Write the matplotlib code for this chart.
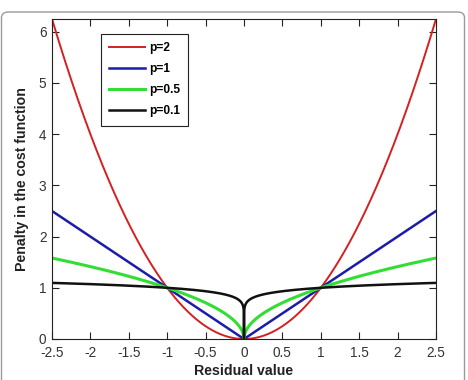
import numpy as np
import matplotlib
matplotlib.use("Agg")
import matplotlib.pyplot as plt
from matplotlib.patches import FancyBboxPatch

plt.rcParams["font.family"] = ["Liberation Sans", "DejaVu Sans"]

# Data
p_values = [2, 1, 0.5, 0.1]
labels = ["p=2", "p=1", "p=0.5", "p=0.1"]
colors = ["#d42020", "#1c1ca8", "#33dd33", "#111111"]
widths = [1.4, 1.8, 2.2, 1.8]
x_range = (-2.5, 2.5)
xticks = [-2.5, -2, -1.5, -1, -0.5, 0, 0.5, 1, 1.5, 2, 2.5]
xticklabels = ["-2.5", "-2", "-1.5", "-1", "-0.5", "0", "0.5", "1", "1.5", "2", "2.5"]
yticks = [0, 1, 2, 3, 4, 5, 6]

W, H = 468, 380
fig = plt.figure(figsize=(W / 100, H / 100), dpi=100)
# outer rounded frame
fig.patches.append(FancyBboxPatch((1.5 / W, -10 / H), (W - 5) / W, (H - 2) / H,
                                  boxstyle="round,pad=0,rounding_size=0.015",
                                  transform=fig.transFigure, fill=False,
                                  edgecolor="#9a9a9a", linewidth=1.0))

left, right, top, bottom = 52, 436, 19, 339
ax = fig.add_axes([left / W, 1 - bottom / H, (right - left) / W, (bottom - top) / H])

x = np.linspace(x_range[0], x_range[1], 2001)
for p, lab, c, lw in zip(p_values, labels, colors, widths):
    ax.plot(x, np.abs(x) ** p, color=c, lw=lw, label=lab)

ax.set_xlim(*x_range)
ax.set_ylim(0, 6.25)
ax.set_xticks(xticks)
ax.set_xticklabels(xticklabels)
ax.set_yticks(yticks)
ax.tick_params(direction="in", top=True, right=True, length=5, width=0.8,
               labelsize=9.8, labelcolor="#333333", color="#222222")
ax.tick_params(axis="x", pad=5)
ax.tick_params(axis="y", pad=4)
for s in ax.spines.values():
    s.set_linewidth(0.8)
    s.set_color("#222222")

ax.set_xlabel("Residual value", fontsize=10.2, fontweight="bold", labelpad=3, color="#222222")
ax.set_ylabel("Penalty in the cost function", fontsize=10.2, fontweight="bold", labelpad=7, color="#222222")

leg = ax.legend(loc="upper left", bbox_to_anchor=((101 - left) / (right - left), 1 - (34 - top) / (bottom - top)),
                fancybox=False, edgecolor="#222222", framealpha=1,
                prop={"weight": "bold", "size": 8.6},
                handlelength=3.0, handletextpad=0.3, borderpad=0.7,
                labelspacing=0.75, borderaxespad=0)
leg.get_frame().set_linewidth(0.8)

fig.savefig("out.png", dpi=100)
